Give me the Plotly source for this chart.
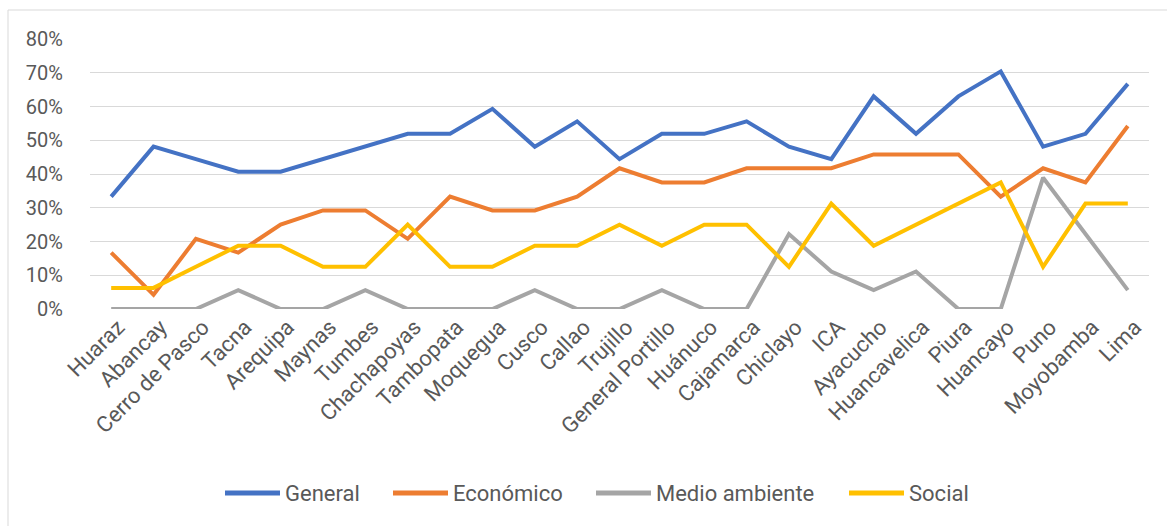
import plotly.graph_objects as go

# Cities along the x axis
ciudades = [
    "Huaraz", "Abancay", "Cerro de Pasco", "Tacna", "Arequipa", "Maynas",
    "Tumbes", "Chachapoyas", "Tambopata", "Moquegua", "Cusco", "Callao",
    "Trujillo", "General Portillo", "Huánuco", "Cajamarca", "Chiclayo",
    "ICA", "Ayacucho", "Huancavelica", "Piura", "Huancayo", "Puno",
    "Moyobamba", "Lima",
]

# Share per city (fractions)
general = [
    0.333, 0.481, 0.444, 0.407, 0.407, 0.444, 0.481, 0.519, 0.519, 0.593,
    0.481, 0.556, 0.444, 0.519, 0.519, 0.556, 0.481, 0.444, 0.630, 0.519,
    0.630, 0.704, 0.481, 0.519, 0.667,
]
economico = [
    0.167, 0.042, 0.208, 0.167, 0.250, 0.292, 0.292, 0.208, 0.333, 0.292,
    0.292, 0.333, 0.417, 0.375, 0.375, 0.417, 0.417, 0.417, 0.458, 0.458,
    0.458, 0.333, 0.417, 0.375, 0.542,
]
medio_ambiente = [
    0.0, 0.0, 0.0, 0.056, 0.0, 0.0, 0.056, 0.0, 0.0, 0.0,
    0.056, 0.0, 0.0, 0.056, 0.0, 0.0, 0.222, 0.111, 0.056, 0.111,
    0.0, 0.0, 0.389, 0.222, 0.056,
]
social = [
    0.0625, 0.0625, 0.125, 0.1875, 0.1875, 0.125, 0.125, 0.25, 0.125, 0.125,
    0.1875, 0.1875, 0.25, 0.1875, 0.25, 0.25, 0.125, 0.3125, 0.1875, 0.25,
    0.3125, 0.375, 0.125, 0.3125, 0.3125,
]

series = [
    ("General", general, "#4472C4"),
    ("Económico", economico, "#ED7D31"),
    ("Medio ambiente", medio_ambiente, "#A5A5A5"),
    ("Social", social, "#FFC000"),
]

FONT = "Roboto, Arial, sans-serif"
TEXT = "#595959"
GRID = "#D9D9D9"

W, H = 1167, 526
ML, MR, MT, MB = 90, 18, 39, 217
PW, PH = W - ML - MR, H - MT - MB


def px_x(x):
    """Pixel column -> paper x."""
    return (x - ML) / PW


def px_y(y):
    """Pixel row -> paper y."""
    return (H - MB - y) / PH


fig = go.Figure()
for nombre, valores, color in series:
    fig.add_trace(go.Scatter(
        x=ciudades, y=valores, name=nombre, mode="lines",
        line=dict(color=color, width=4),
        showlegend=False,
    ))

# Outer chart frame (top and left edges)
fig.add_shape(type="line", xref="paper", yref="paper",
              x0=px_x(8), x1=px_x(W + 5), y0=px_y(10), y1=px_y(10),
              line=dict(color=GRID, width=1))
fig.add_shape(type="line", xref="paper", yref="paper",
              x0=px_x(8), x1=px_x(8), y0=px_y(10), y1=px_y(H + 5),
              line=dict(color=GRID, width=1))

# Legend row: long line swatch followed by the series name
legend_y = 493
swatch_starts = [225, 393, 596, 849]
swatch_len = 55
for (nombre, _, color), x0 in zip(series, swatch_starts):
    fig.add_shape(type="line", xref="paper", yref="paper",
                  x0=px_x(x0), x1=px_x(x0 + swatch_len),
                  y0=px_y(legend_y), y1=px_y(legend_y),
                  line=dict(color=color, width=5))
    fig.add_annotation(xref="paper", yref="paper",
                       x=px_x(x0 + swatch_len + 3), y=px_y(legend_y),
                       xanchor="left", yanchor="middle", showarrow=False,
                       text=nombre, font=dict(size=22, color=TEXT, family=FONT))

fig.update_layout(
    width=W, height=H,
    margin=dict(l=ML, r=MR, t=MT, b=MB),
    paper_bgcolor="white", plot_bgcolor="white",
    font=dict(family=FONT, color=TEXT, size=20),
    showlegend=False,
    xaxis=dict(
        type="category", range=[-0.5, len(ciudades) - 0.5],
        showgrid=False, zeroline=False, showline=False,
        tickangle=-45, tickfont=dict(size=22, color=TEXT),
        ticks="", ticklabelshift=7,
    ),
    yaxis=dict(
        range=[0, 0.8], dtick=0.1, tickformat=".0%",
        showgrid=True, gridcolor=GRID, gridwidth=1,
        zeroline=False, showline=False,
        tickfont=dict(size=20, color=TEXT),
        ticks="outside", ticklen=22, tickcolor="rgba(0,0,0,0)",
    ),
)

fig.write_html("out.html")
